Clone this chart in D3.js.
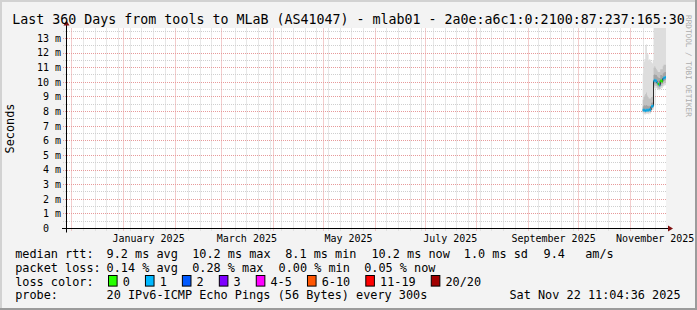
<!DOCTYPE html>
<html>
<head>
<meta charset="utf-8">
<script src="https://cdn.jsdelivr.net/npm/d3@7"></script>
<style>
html, body { margin: 0; padding: 0; background: #ffffff; }
svg { display: block; font-family: "DejaVu Sans Mono", monospace; }
</style>
</head>
<body>
<svg id="chart" width="697" height="310"></svg>
<script>
// ---- data ----
var titleText = "Last 360 Days from tools to MLaB (AS41047) - mlab01 - 2a0e:a6c1:0:2100:87:237:165:30";
var endTime = new Date(2025, 10, 22, 11, 4, 36);
var spanDays = 360;
var yMax = 13.68;

// 12 hour buckets, first one starting Nov 8 12:00
var bucketStart = new Date(2025, 10, 8, 12, 0, 0);
var bucketHours = 12;

var medianMs = [8.1, 8.1, 8.1, 8.05, 8.1, 8.1, 8.1, 8.1, 8.15, 8.1, 8.35, 8.35, 8.4,
                10.1, 10.15, 10.1, 10.1, 9.95, 9.9, 9.85, 9.8, 10.1, 10.1, 10.05, 10.25, 10.3, 10.3, 10.35];
var lossIndex = [1, 1, 1, 1, 1, 1, 1, 1, 1, 1, 1, 1, 1,
                 1, 1, 1, 1, 1, 0, 0, 1, 0, 0, 0, 1, 1, 1, 1];
var smokeMin = [7.85, 7.85, 7.8, 7.8, 7.85, 7.85, 7.85, 7.8, 7.9, 7.85, 8.05, 8.1, 8.1,
                9.6, 9.65, 9.6, 9.6, 9.55, 9.5, 9.45, 9.45, 9.55, 9.6, 9.6, 9.7, 9.75, 9.8, 9.8];
var smokeP10 = [7.95, 7.95, 7.95, 7.9, 7.95, 7.95, 7.95, 7.95, 8.0, 7.95, 8.15, 8.2, 8.2,
                9.75, 9.8, 9.75, 9.75, 9.65, 9.6, 9.55, 9.55, 9.7, 9.75, 9.75, 9.85, 9.9, 9.95, 9.95];
var smokeP25 = [8.0, 8.0, 8.0, 7.95, 8.0, 8.0, 8.0, 8.0, 8.05, 8.0, 8.25, 8.25, 8.3,
                9.9, 9.95, 9.9, 9.9, 9.8, 9.75, 9.7, 9.7, 9.9, 9.9, 9.9, 10.05, 10.1, 10.1, 10.15];
var smokeP75 = [8.35, 8.4, 8.45, 8.4, 8.45, 8.4, 8.4, 8.35, 8.4, 8.35, 8.6, 8.6, 8.65,
                10.5, 10.55, 10.5, 10.5, 10.4, 10.35, 10.3, 10.3, 10.5, 10.5, 10.45, 10.6, 10.65, 10.7, 10.7];
var smokeP90 = [8.8, 9.0, 9.1, 9.2, 9.3, 9.1, 9.0, 8.9, 8.9, 8.9, 9.0, 9.0, 9.1,
                11.0, 11.1, 11.0, 10.9, 10.8, 10.7, 10.7, 10.7, 10.9, 10.9, 10.9, 11.1, 11.2, 11.2, 11.2];
var smokeMax = [10.6, 11.4, 11.6, 12.5, 12.6, 12.0, 11.9, 11.5, 11.6, 11.5, 11.4, 11.3, 11.5,
                14.5, 14.5, 14.5, 14.5, 14.5, 14.5, 14.5, 14.5, 14.5, 14.5, 14.5, 14.5, 14.5, 14.5, 14.5];

var lossLabels = ["0", "1", "2", "3", "4-5", "6-10", "11-19", "20/20"];
var lossColors = ["#26ff00", "#00b8ff", "#0059ff", "#7e00ff", "#ff00ff", "#ff5500", "#ff0000", "#a10000"];

var rttStats = ["9.2 ms avg", "10.2 ms max", "8.1 ms min", "10.2 ms now", "1.0 ms sd", "9.4", "am/s"];
var lossStats = ["0.14 % avg", "0.28 % max", "0.00 % min", "0.05 % now"];
var probeText = "20 IPv6-ICMP Echo Pings (56 Bytes) every 300s";
var stampText = "Sat Nov 22 11:04:36 2025";

// ---- layout ----
var W = 697, H = 310;
var plotLeft = 66, plotRight = 666, plotTop = 28.5, plotBottom = 228.5;
var fontLegend = 11.85, fontAxis = 10;

var startTime = new Date(+endTime - spanDays * 864e5);
var x = d3.scaleTime().domain([startTime, endTime]).range([plotLeft, plotRight]);
var y = d3.scaleLinear().domain([0, yMax]).range([plotBottom, plotTop]);

function crisp(v) { return Math.round(v - 0.5) + 0.5; }

var svg = d3.select('#chart');

// background and shaded frame
svg.append('rect').attr('width', W).attr('height', H).attr('fill', '#f3f3f3');
svg.append('path').attr('d', 'M0,0H' + W + 'V2H2V' + H + 'H0Z').attr('fill', '#d2d2d2');
svg.append('path').attr('d', 'M' + W + ',0V' + H + 'H0V' + (H - 2) + 'H' + (W - 2) + 'V0Z').attr('fill', '#9b9b9b');

// canvas
svg.append('rect')
    .attr('x', plotLeft).attr('y', plotTop - 0.5)
    .attr('width', plotRight - plotLeft).attr('height', plotBottom - plotTop)
    .attr('fill', '#ffffff');

var defs = svg.append('defs');
defs.append('clipPath').attr('id', 'plotClip')
    .append('rect')
    .attr('x', plotLeft).attr('y', plotTop - 0.5)
    .attr('width', plotRight - plotLeft).attr('height', plotBottom - plotTop);

// ---- grid ----
var minorColor = '#cfcfcf', majorColor = '#e79a9a';
var gridG = svg.append('g');

var monthTicks = d3.timeMonth.range(d3.timeMonth.ceil(startTime), endTime);
var weekTicks = d3.timeSunday.range(startTime, endTime).filter(function (d) {
    return Math.abs(x(d) - x(d3.timeMonth.round(d))) > 3;
});
var minorY = d3.range(0.5, yMax, 1);
var majorY = d3.range(1, yMax, 1);

function vLines(data, color) {
    gridG.selectAll(null).data(data).enter().append('line')
        .attr('x1', function (d) { return crisp(x(d)); })
        .attr('x2', function (d) { return crisp(x(d)); })
        .attr('y1', plotTop).attr('y2', plotBottom + 2.5)
        .attr('stroke', color).attr('stroke-dasharray', '1,1');
}
function hLines(data, color) {
    gridG.selectAll(null).data(data).enter().append('line')
        .attr('y1', function (d) { return crisp(y(d)); })
        .attr('y2', function (d) { return crisp(y(d)); })
        .attr('x1', plotLeft - 3).attr('x2', plotRight)
        .attr('stroke', color).attr('stroke-dasharray', '1,1');
}
vLines(weekTicks, minorColor);
hLines(minorY, minorColor);
vLines(monthTicks, majorColor);
hLines(majorY, majorColor);

// ---- smoke ----
var buckets = medianMs.map(function (m, i) {
    return {
        t: new Date(+bucketStart + i * bucketHours * 36e5),
        med: m, loss: lossIndex[i],
        min: smokeMin[i], p10: smokeP10[i], p25: smokeP25[i],
        p75: smokeP75[i], p90: smokeP90[i], max: smokeMax[i]
    };
});
var lastB = buckets[buckets.length - 1];
var stepped = buckets.concat([Object.assign({}, lastB, { t: new Date(+lastB.t + bucketHours * 36e5) })]);

var dataG = svg.append('g').attr('clip-path', 'url(#plotClip)');

var bands = [
    { lo: 'min', hi: 'max', fill: '#dddddd' },
    { lo: 'p10', hi: 'p90', fill: '#c2c2c2' },
    { lo: 'p25', hi: 'p75', fill: '#a3a3a3' }
];
bands.forEach(function (b) {
    var area = d3.area()
        .curve(d3.curveStepAfter)
        .x(function (d) { return x(d.t); })
        .y0(function (d) { return y(d[b.lo]); })
        .y1(function (d) { return y(d[b.hi]); });
    dataG.append('path').datum(stepped).attr('d', area).attr('fill', b.fill);
});

// median: thin dark step line, then loss coloured segments on top
var medLine = d3.line().curve(d3.curveStepAfter)
    .x(function (d) { return x(d.t); })
    .y(function (d) { return y(d.med); });
dataG.append('path').datum(stepped).attr('d', medLine)
    .attr('fill', 'none').attr('stroke', '#202020').attr('stroke-width', 1);

dataG.selectAll('line.med').data(buckets).enter().append('line')
    .attr('class', 'med')
    .attr('x1', function (d) { return x(d.t); })
    .attr('x2', function (d) { return x(new Date(+d.t + bucketHours * 36e5)); })
    .attr('y1', function (d) { return y(d.med); })
    .attr('y2', function (d) { return y(d.med); })
    .attr('stroke', function (d) { return lossColors[d.loss]; })
    .attr('stroke-width', 2.6);

// ---- axes ----
var axisG = svg.append('g');
var ax0 = crisp(plotLeft), ay0 = crisp(plotBottom);
axisG.append('line').attr('x1', plotLeft - 4).attr('x2', plotRight + 3)
    .attr('y1', ay0).attr('y2', ay0).attr('stroke', '#000');
axisG.append('line').attr('x1', ax0).attr('x2', ax0)
    .attr('y1', plotBottom + 4).attr('y2', plotTop - 4).attr('stroke', '#000');
axisG.append('path')
    .attr('d', 'M' + (plotRight + 2) + ',' + (ay0 - 3) + 'L' + (plotRight + 7) + ',' + ay0 + 'L' + (plotRight + 2) + ',' + (ay0 + 3) + 'Z')
    .attr('fill', '#7f1010');
axisG.append('path')
    .attr('d', 'M' + (ax0 - 3) + ',' + (plotTop - 3) + 'L' + ax0 + ',' + (plotTop - 8) + 'L' + (ax0 + 3) + ',' + (plotTop - 3) + 'Z')
    .attr('fill', '#7f1010');

// y tick labels
var yLabels = d3.range(0, Math.floor(yMax) + 1);
axisG.selectAll('text.yl').data(yLabels).enter().append('text')
    .attr('class', 'yl')
    .attr('x', 61).attr('y', function (d) { return y(d) + 3.4; })
    .attr('text-anchor', 'end')
    .attr('xml:space', 'preserve')
    .style('white-space', 'pre')
    .attr('font-size', fontAxis)
    .text(function (d) { return d === 0 ? '0  ' : d + ' m'; });

// x labels: every 2nd month, centred half a month after its start
var labelMonths = d3.timeMonth.every(2).range(d3.timeMonth.ceil(startTime), endTime);
var fmtMonth = d3.timeFormat('%B %Y');
axisG.selectAll('text.xl').data(labelMonths).enter().append('text')
    .attr('class', 'xl')
    .attr('x', function (d) { return x(d3.timeDay.offset(d, 15)); })
    .attr('y', 241.7)
    .attr('text-anchor', 'middle')
    .attr('font-size', fontAxis)
    .text(function (d) { return fmtMonth(d); });

// vertical axis title
svg.append('text')
    .attr('transform', 'translate(14.2,' + ((plotTop + plotBottom) / 2) + ') rotate(-90)')
    .attr('text-anchor', 'middle')
    .attr('font-size', fontLegend)
    .text('Seconds');

// title
svg.append('text')
    .attr('x', W / 2).attr('y', 24)
    .attr('text-anchor', 'middle')
    .attr('font-size', 13.3)
    .text(titleText);

// watermark
svg.append('text')
    .attr('transform', 'translate(685.5,15) rotate(90)')
    .attr('font-size', 7.7)
    .attr('fill', '#acacac')
    .text('RRDTOOL / TOBI OETIKER');

// ---- legend ----
var legendG = svg.append('g').attr('font-size', fontLegend);
var rowY = [258.3, 271.9, 285.5, 299.1];
function legendText(str, px, py, anchor) {
    return legendG.append('text').attr('x', px).attr('y', py)
        .attr('text-anchor', anchor || 'start')
        .attr('xml:space', 'preserve').style('white-space', 'pre')
        .text(str);
}

var rttX = [106.5, 192.2, 285.2, 371.4, 463.8, 543.5, 585.2];
var lossX = [106.5, 192.2, 278.5, 364.2];

legendText('median rtt:', 15.2, rowY[0]);
rttStats.forEach(function (s, i) { legendText(s, rttX[i], rowY[0]); });

legendText('packet loss:', 15.2, rowY[1]);
lossStats.forEach(function (s, i) { legendText(s, lossX[i], rowY[1]); });

legendText('loss color:', 15.2, rowY[2]);
var bx = 108.5;
lossLabels.forEach(function (lab, i) {
    legendG.append('rect')
        .attr('x', bx).attr('y', 275.5)
        .attr('width', 8.6).attr('height', 10.6)
        .attr('fill', lossColors[i]).attr('stroke', '#000').attr('stroke-width', 1);
    var t = legendText(lab, bx + 14.2, rowY[2]);
    bx = bx + 14.2 + t.node().getComputedTextLength() + 15.6;
});

legendText('probe:', 15.2, rowY[3]);
legendText(probeText, 106.5, rowY[3]);
legendText(stampText, 680.6, rowY[3], 'end');
</script>
</body>
</html>
